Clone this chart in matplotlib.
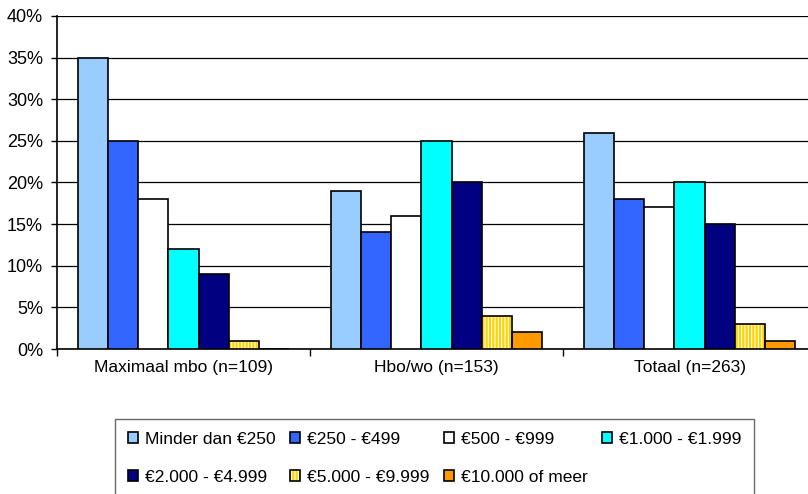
import numpy as np
import matplotlib
matplotlib.use("Agg")
import matplotlib.pyplot as plt
from matplotlib.legend_handler import HandlerTuple

plt.rcParams['font.family'] = ['Liberation Sans', 'DejaVu Sans']
plt.rcParams['hatch.linewidth'] = 0.8

### Data ###
groups = ["Maximaal mbo (n=109)", "Hbo/wo (n=153)", "Totaal (n=263)"]
series = [
    "Minder dan €250", "€250 - €499", "€500 - €999", "€1.000 - €1.999",
    "€2.000 - €4.999", "€5.000 - €9.999", "€10.000 of meer",
]
values = [
    [35, 19, 26],
    [25, 14, 18],
    [18, 16, 17],
    [12, 25, 20],
    [9, 20, 15],
    [1, 4, 3],
    [0, 2, 1],
]
colors = ["#99CCFF", "#3366FF", "#FFFFFF", "#00FFFF", "#000080", "#FFD200", "#FF9900"]
yticks = [0, 5, 10, 15, 20, 25, 30, 35, 40]

### Plot ###
fig = plt.figure(figsize=(8.08, 4.94), dpi=100)
ax = fig.add_axes([57 / 808, 145 / 494, 759 / 808, 333 / 494])

x = np.arange(len(groups))
w = 0.1186
handles = []
for i, (name, vals, col) in enumerate(zip(series, values, colors)):
    pos = x + (i - 3) * w
    if i == 5:
        # yellow bars with white vertical stripes, outline drawn on top
        hb = ax.bar(pos, vals, w, color=col, edgecolor="white", linewidth=0,
                    hatch="|||||", zorder=3)
        ob = ax.bar(pos, vals, w, fill=False, edgecolor="black", linewidth=1.2, zorder=4)
        handles.append((hb[0], ob[0]))
    else:
        b = ax.bar(pos, vals, w, color=col, edgecolor="black", linewidth=1.2, zorder=3)
        handles.append(b[0])

ax.set_xlim(-0.5, 2.5)
ax.set_ylim(0, 40)
ax.set_yticks(yticks)
ax.set_yticklabels([f"{t}%" for t in yticks], fontsize=13)
ax.yaxis.grid(True, color="black", linewidth=0.9, zorder=0)
ax.set_axisbelow(True)

ax.set_xticks(x)
ax.set_xticklabels(groups, fontsize=12.5)
ax.set_xticks([-0.5, 0.5, 1.5, 2.5], minor=True)
ax.tick_params(axis="x", which="major", length=0, pad=8)
ax.tick_params(axis="x", which="minor", length=5, width=1, direction="out")
ax.tick_params(axis="y", length=4, width=1, direction="out", pad=6)

for s in ["top", "right"]:
    ax.spines[s].set_visible(False)
ax.spines["left"].set_linewidth(1.2)
ax.spines["bottom"].set_linewidth(1.2)

# legend fills column by column, so reorder to read row by row
order = [0, 4, 1, 5, 2, 6, 3]
leg = fig.legend([handles[k] for k in order], [series[k] for k in order],
                 ncol=4, loc="upper left",
                 bbox_to_anchor=(115 / 808, 1 - 419 / 494),
                 fontsize=12.5, frameon=True, fancybox=False,
                 edgecolor="#444444", handlelength=0.6, handleheight=0.6,
                 handletextpad=0.4, columnspacing=0.8, labelspacing=1.3,
                 borderpad=0.75, borderaxespad=0,
                 handler_map={tuple: HandlerTuple(ndivide=1, pad=0)})
leg.get_frame().set_linewidth(1.0)

fig.savefig("out.png", dpi=100)
